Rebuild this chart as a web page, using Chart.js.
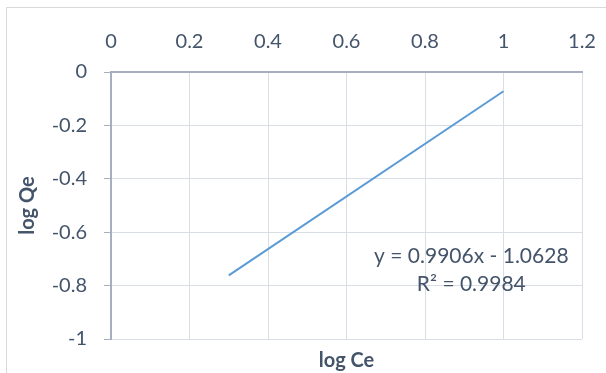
<!DOCTYPE html>
<html>
<head>
<meta charset="utf-8">
<script src="https://cdn.jsdelivr.net/npm/chart.js@4"></script>
<style>
  html, body { margin: 0; padding: 0; background: #ffffff; }
  #wrap { width: 606px; height: 373px; position: relative; }
</style>
</head>
<body>
<div id="wrap"><canvas id="chart1" width="606" height="373"></canvas></div>
<script>
// log Ce vs log Qe, straight line with the trendline equation
const logCe = [0.3, 1];
const logQe = [-0.762, -0.072];
const equationText = ['y = 0.9906x - 1.0628', 'R\u00B2 = 0.9984'];
const equationAt = { x: 0.918, y: [-0.689, -0.795] };

const textColor = '#44546A';
const axisColor = '#A6AFC0';
const gridColor = '#D9DEE6';
const fontName = 'Lato, "Open Sans", sans-serif';

const canvas1 = document.getElementById('chart1');

// excel style tick text: 1 not 1.0
function tickText(value) {
    return String(+value.toFixed(1));
}

// light frame round the whole chart, like the Excel chart area border
const frame = {
    id: 'frame',
    beforeDraw(chart) {
        const ctx = chart.ctx;
        ctx.save();
        ctx.strokeStyle = '#D9D9D9';
        ctx.lineWidth = 1;
        ctx.strokeRect(6.5, 7.5, 640, 400);
        ctx.restore();
    }
};

// trendline label
const equation = {
    id: 'equation',
    afterDatasetsDraw(chart) {
        const ctx = chart.ctx;
        const xs = chart.scales.x;
        const ys = chart.scales.y;
        ctx.save();
        ctx.fillStyle = textColor;
        ctx.font = '21px ' + fontName;
        ctx.textAlign = 'center';
        ctx.textBaseline = 'middle';
        equationText.forEach(function(t, i) {
            ctx.fillText(t, xs.getPixelForValue(equationAt.x), ys.getPixelForValue(equationAt.y[i]));
        });
        ctx.restore();
    }
};

chart_1 = new Chart(canvas1, {
    type: 'scatter',
    data: {
        datasets: [
            {
                data: logCe.map(function(x, i) { return { x: x, y: logQe[i] }; }),
                showLine: true,
                borderColor: '#5B9BD5',
                borderWidth: 2,
                pointRadius: 0,
                xAxisID: 'x',
                yAxisID: 'y',
            }
        ]
    },
    options: {
        responsive: false,
        animation: false,
        layout: { padding: { right: 24 } },
        scales: {
            x: {
                type: 'linear',
                position: 'top',
                min: 0,
                max: 1.2,
                ticks: { stepSize: 0.2, color: textColor, font: { family: fontName, size: 20 }, padding: 18, callback: tickText },
                grid: { color: gridColor, drawTicks: false },
                border: { color: axisColor, width: 2 },
                afterFit: function(scale) {
                    scale.height = 72;
                    scale.paddingLeft = 0;
                    scale.paddingRight = 0;
                }
            },
            x2: {
                type: 'linear',
                position: 'bottom',
                min: 0,
                max: 1.2,
                ticks: { display: false },
                grid: { display: false, drawTicks: false },
                border: { display: false },
                title: {
                    display: true,
                    text: 'log Ce',
                    color: textColor,
                    font: { family: fontName, size: 20, weight: 'bold' },
                    padding: { top: 4, bottom: 0 }
                },
                afterFit: function(scale) {
                    scale.height = 34;
                    scale.paddingLeft = 0;
                    scale.paddingRight = 0;
                }
            },
            y: {
                type: 'linear',
                min: -1,
                max: 0,
                ticks: { stepSize: 0.2, color: textColor, font: { family: fontName, size: 20 }, padding: 17, callback: tickText },
                grid: { color: gridColor, tickColor: axisColor, tickLength: 7 },
                border: { color: axisColor, width: 2 },
                title: {
                    display: true,
                    text: 'log Qe',
                    color: textColor,
                    font: { family: fontName, size: 20, weight: 'bold' },
                    padding: { top: 16, bottom: 0 }
                },
                afterFit: function(scale) { scale.width = 111; }
            }
        },
        plugins: {
            legend: { display: false },
            tooltip: { enabled: false }
        }
    },
    plugins: [frame, equation]
});
</script>
</body>
</html>
